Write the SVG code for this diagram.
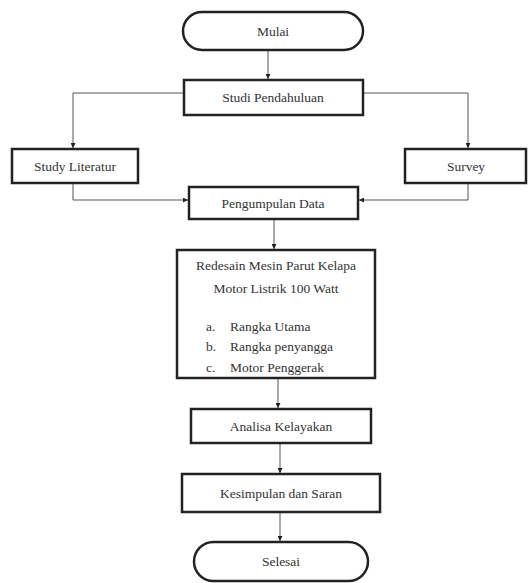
<svg xmlns="http://www.w3.org/2000/svg" width="528" height="583" viewBox="0 0 528 583">
<style>
.box{fill:#fff;stroke:#222;stroke-width:2.5}
.t{font-family:'Liberation Serif','Times New Roman','DejaVu Serif',Tinos,serif;font-size:13.5px;fill:#333;text-anchor:middle;dominant-baseline:central}
.l{text-anchor:start}
.c{fill:none;stroke:#555;stroke-width:1}
</style>
<defs>
<marker id="a" viewBox="0 0 10 10" refX="10" refY="5" markerWidth="5" markerHeight="5" markerUnits="userSpaceOnUse" orient="auto">
<path d="M0,0 L10,5 L0,10 Z" fill="#222"/>
</marker>
</defs>
<rect width="528" height="583" fill="#fff"/>
<g id="connectors">
<path class="c" d="M268,50 V79" marker-end="url(#a)"/>
<path class="c" d="M184,93 H73 V148" marker-end="url(#a)"/>
<path class="c" d="M363,93 H468 V148" marker-end="url(#a)"/>
<path class="c" d="M73,183 V200 H188" marker-end="url(#a)"/>
<path class="c" d="M468,183 V200 H359" marker-end="url(#a)"/>
<path class="c" d="M274,219 V249" marker-end="url(#a)"/>
<path class="c" d="M278,378 V408" marker-end="url(#a)"/>
<path class="c" d="M280,443 V473" marker-end="url(#a)"/>
<path class="c" d="M280,512 V541" marker-end="url(#a)"/>
</g>
<g id="mulai">
<rect class="box" x="183" y="12" width="180" height="38" rx="19"/>
<text class="t" x="273" y="31" font-family="Liberation Serif, serif">Mulai</text>
</g>
<g id="studi">
<rect class="box" x="184" y="80" width="179" height="35"/>
<text class="t" x="273" y="97.5">Studi Pendahuluan</text>
</g>
<g id="literatur">
<rect class="box" x="12" y="149" width="126" height="34"/>
<text class="t" x="75" y="166">Study Literatur</text>
</g>
<g id="survey">
<rect class="box" x="405" y="149" width="121" height="34"/>
<text class="t" x="466" y="166">Survey</text>
</g>
<g id="pengumpulan">
<rect class="box" x="189" y="187" width="169" height="32"/>
<text class="t" x="273" y="203">Pengumpulan Data</text>
</g>
<g id="redesain">
<rect class="box" x="177" y="250" width="198" height="128"/>
<text class="t" x="276" y="265">Redesain Mesin Parut Kelapa</text>
<text class="t" x="276" y="288">Motor Listrik 100 Watt</text>
<text class="t l" x="206" y="326">a.</text>
<text class="t l" x="230" y="326">Rangka Utama</text>
<text class="t l" x="206" y="346">b.</text>
<text class="t l" x="230" y="346">Rangka penyangga</text>
<text class="t l" x="206" y="367">c.</text>
<text class="t l" x="230" y="367">Motor Penggerak</text>
</g>
<g id="analisa">
<rect class="box" x="191" y="409" width="180" height="34"/>
<text class="t" x="281" y="426">Analisa Kelayakan</text>
</g>
<g id="kesimpulan">
<rect class="box" x="182" y="474" width="198" height="38"/>
<text class="t" x="281" y="493">Kesimpulan dan Saran</text>
</g>
<g id="selesai">
<rect class="box" x="194" y="542" width="174" height="39" rx="19.5"/>
<text class="t" x="281" y="561.5">Selesai</text>
</g>
</svg>
